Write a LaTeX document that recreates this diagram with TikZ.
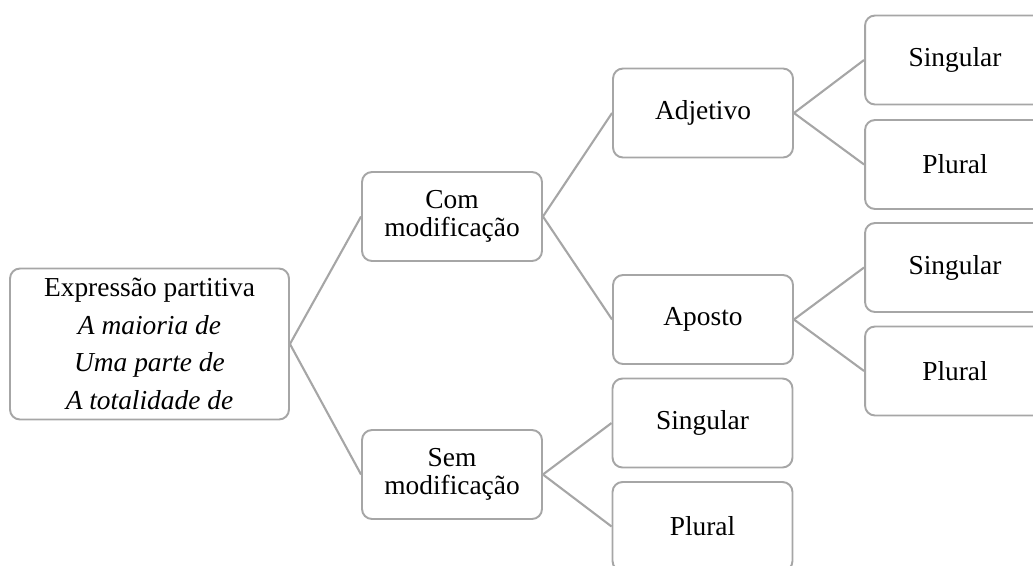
\documentclass[tikz,border=0pt]{standalone}
\usepackage{fontspec}
\setmainfont{Liberation Serif}
\tikzset{
  box/.style={draw=black!35, line width=1.1pt, rounded corners=0.2cm, fill=white,
    minimum width=3.6cm, minimum height=1.78cm, inner sep=0pt, align=center,
    font=\fontsize{15.6}{15.9}\selectfont},
  link/.style={draw=black!35, line width=1.2pt}
}
\begin{document}
\begin{tikzpicture}[x=0.02cm, y=-0.02cm]
      \useasboundingbox (0,0) rectangle (1033,565);
      \draw
        (149.5,344) node[box, minimum width=5.58cm, minimum height=3.02cm,
          font=\fontsize{15.6}{21.4}\selectfont] (0){Expressão partitiva\\
          \textit{A maioria de}\\ \textit{Uma parte de}\\ \textit{A totalidade de}}
        (452,216.5) node[box] (1){Com\\modificação}
        (452,474.5) node[box] (2){Sem\\modificação}
        (703,113) node[box] (3){Adjetivo}
        (703,319.5) node[box] (4){Aposto}
        (702.5,423) node[box] (5){Singular}
        (702.5,526.5) node[box] (6){Plural}
        (955,60) node[box] (7){Singular}
        (955,164.5) node[box] (8){Plural}
        (955,267.5) node[box] (9){Singular}
        (955,371) node[box] (10){Plural};
      \begin{scope}[link]
        \draw (0.east) to (1.west);
        \draw (0.east) to (2.west);
        \draw (1.east) to (3.west);
        \draw (1.east) to (4.west);
        \draw (2.east) to (5.west);
        \draw (2.east) to (6.west);
        \draw (3.east) to (7.west);
        \draw (3.east) to (8.west);
        \draw (4.east) to (9.west);
        \draw (4.east) to (10.west);
      \end{scope}
    \end{tikzpicture}
\end{document}
